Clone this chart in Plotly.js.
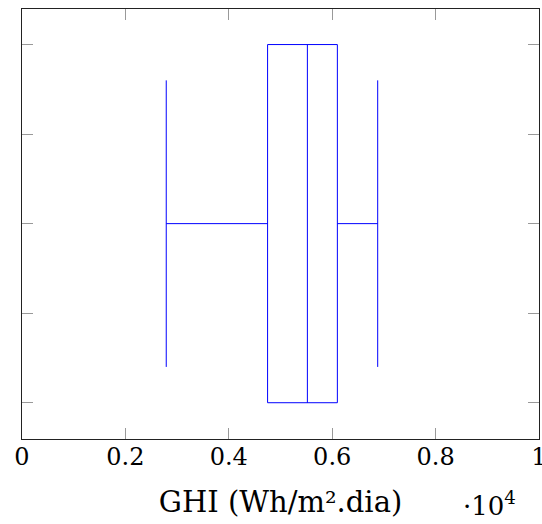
<!DOCTYPE html>
<html>
<head>
<meta charset="utf-8">
<script src="https://cdn.plot.ly/plotly-3.0.1.min.js"></script>
<style>html,body{margin:0;padding:0;background:#fff;}#chart{width:542px;height:524px;}</style>
</head>
<body>
<div id="chart"></div>
<script>
// Box statistics (GHI, Wh/m².dia)
const lowerWhisker = [2790];
const q1 = [4750];
const median = [5520];
const q3 = [6100];
const upperWhisker = [6880];
const boxPosition = [1];

const xTickVals = [0, 2000, 4000, 6000, 8000, 10000];
const xTickText = ["0", "0.2", "0.4", "0.6", "0.8", "1"];
const yTickVals = [0.6, 0.8, 1.0, 1.2, 1.4];

const trace = {
  type: 'box',
  orientation: 'h',
  y: boxPosition,
  q1: q1,
  median: median,
  q3: q3,
  lowerfence: lowerWhisker,
  upperfence: upperWhisker,
  width: 0.8,
  whiskerwidth: 0.8,
  boxpoints: false,
  fillcolor: 'rgba(0,0,0,0)',
  line: {color: '#0000ff', width: 1},
  hoverinfo: 'skip',
  showlegend: false
};

const serif = 'DejaVu Serif';

const layout = {
  width: 542,
  height: 524,
  margin: {l: 21.7, r: 2.7, t: 8.7, b: 84.7, pad: 0},
  paper_bgcolor: '#ffffff',
  plot_bgcolor: '#ffffff',
  font: {family: serif, color: '#000'},
  showlegend: false,
  xaxis: {
    range: [0, 10000],
    tickvals: xTickVals,
    ticktext: xTickText,
    ticks: 'inside',
    ticklen: 11,
    tickwidth: 1,
    tickcolor: '#999999',
    showline: true,
    linecolor: '#222222',
    linewidth: 1,
    mirror: 'ticks',
    showgrid: false,
    zeroline: false,
    tickfont: {family: serif, size: 24, color: '#000'},
    ticklabelstandoff: -4,
    ticklabeloverflow: 'allow',
    title: {text: 'GHI (Wh/m².dia)', font: {family: serif, size: 29, color: '#000'}, standoff: 21},
    fixedrange: true
  },
  yaxis: {
    range: [0.519, 1.4794],
    tickvals: yTickVals,
    showticklabels: false,
    ticks: 'inside',
    ticklen: 11,
    tickwidth: 1,
    tickcolor: '#999999',
    showline: true,
    linecolor: '#222222',
    linewidth: 1,
    mirror: 'ticks',
    showgrid: false,
    zeroline: false,
    fixedrange: true
  },
  annotations: [{
    text: '·10<sup>4</sup>',
    xref: 'paper', yref: 'paper',
    x: 0.85, y: -0.152,
    xanchor: 'left', yanchor: 'middle',
    showarrow: false,
    font: {family: serif, size: 26, color: '#000'}
  }]
};

Plotly.newPlot('chart', [trace], layout, {displayModeBar: false, staticPlot: true});
</script>
</body>
</html>
